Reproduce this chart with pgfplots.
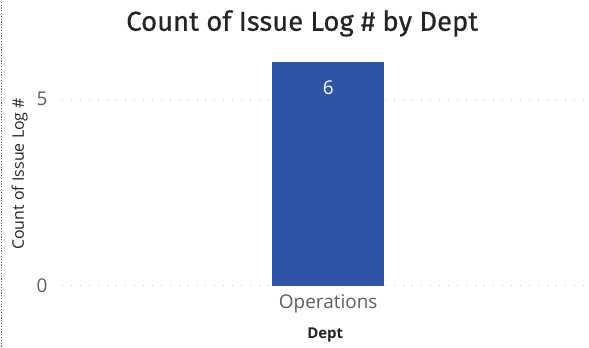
\documentclass[border=0pt]{standalone}
\usepackage{pgfplots}
\pgfplotsset{compat=1.18}
\usepackage{fontspec}
\setmainfont{Open Sans}
\newfontfamily\titlefont[FakeBold=0.5]{Fira Sans}
\definecolor{barblue}{HTML}{2F55A5}
\definecolor{tickgray}{HTML}{605E5C}
\definecolor{darktxt}{HTML}{252423}
\definecolor{gridgray}{HTML}{C8C6C4}
\begin{document}
\begin{tikzpicture}[x=1pt,y=1pt]
\path (0,0) rectangle (589,347);
\draw[darktxt!70, line width=0.9pt, dash pattern=on 1.2pt off 1.6pt] (1.5,0) -- (1.5,347);
\node[font=\titlefont\fontsize{27.5}{31}\selectfont, text=darktxt] at (303,324) {Count of Issue Log \# by Dept};
\begin{axis}[
  at={(62pt,61pt)}, anchor=south west,
  scale only axis, width=528pt, height=224.4pt,
  xmin=0, xmax=528, ymin=0, ymax=6,
  axis line style={draw=none}, tick style={draw=none},
  ytick={0,5}, xtick={267}, xticklabels={Operations},
  ymajorgrids, grid style={gridgray, line width=0.9pt, dash pattern=on 1pt off 8pt},
  /pgf/number format/assume math mode=true,
  yticklabel style={font=\fontsize{19}{22}\selectfont, text=tickgray, xshift=-11pt},
  xticklabel style={font=\fontsize{19}{22}\selectfont, text=tickgray, yshift=-5pt},
  xlabel={Dept}, ylabel={Count of Issue Log \#},
  xlabel style={font=\fontsize{15}{17}\selectfont\bfseries, text=darktxt, yshift=-8pt},
  ylabel style={font=\fontsize{16}{18}\selectfont, text=darktxt, yshift=2pt},
  clip=false,
]
\addplot[ybar, bar width=112pt, fill=barblue, draw=none,
  nodes near coords,
  every node near coord/.append style={anchor=north, yshift=-15pt, text=white, font=\fontsize{19}{22}\selectfont}]
  coordinates {(267,6)};
\end{axis}
\end{tikzpicture}
\end{document}
